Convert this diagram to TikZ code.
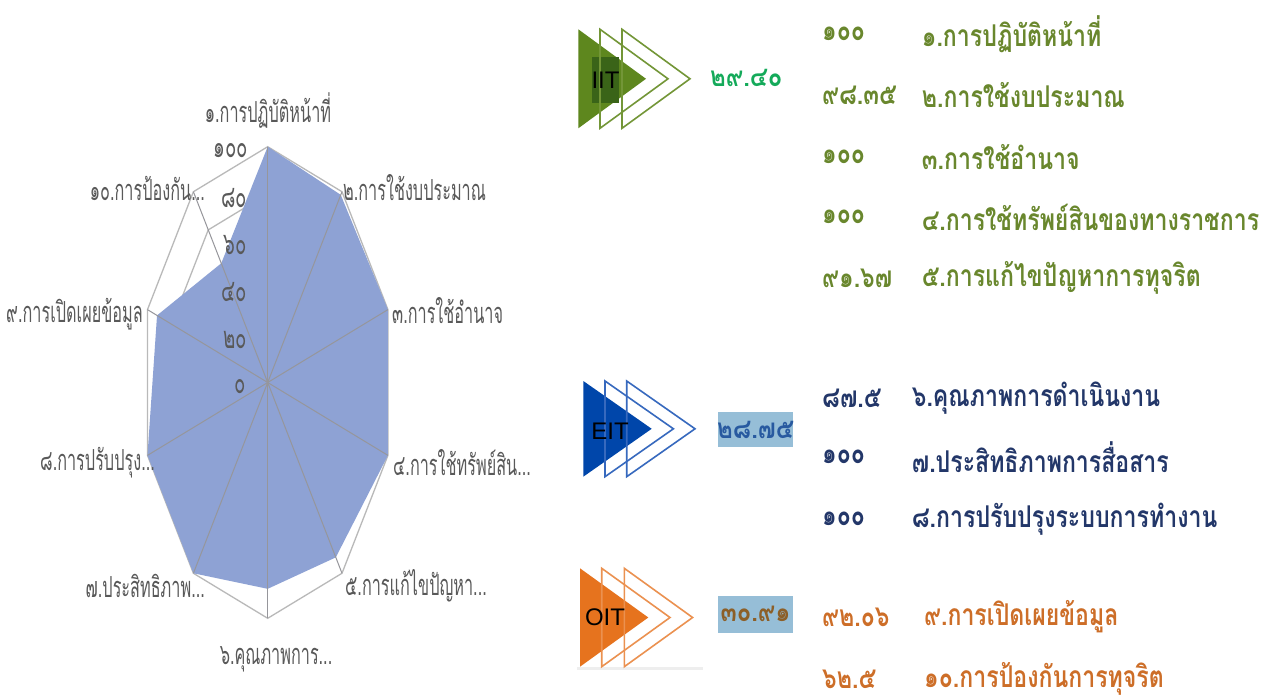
\documentclass[tikz,border=0pt]{standalone}
\usepackage{fontspec}
\newfontfamily\thai[Script=Thai,FakeStretch=0.77]{Loma}
\newfontfamily\thaiscore[Script=Thai,FakeStretch=0.85]{Loma}
\newfontfamily\thaicond[Script=Thai,FakeStretch=0.56]{Loma}
\newfontfamily\thaiax[Script=Thai,FakeStretch=0.6]{Loma}
\newfontfamily\arialf{Liberation Sans}
\definecolor{chartfill}{RGB}{142,162,212}
\definecolor{ringc}{RGB}{185,185,185}
\definecolor{spokec}{RGB}{150,150,155}
\definecolor{labgray}{RGB}{89,89,89}
\definecolor{iitfill}{RGB}{94,135,30}
\definecolor{iitdark}{RGB}{58,100,24}
\definecolor{iitline}{RGB}{115,150,55}
\definecolor{iitscore}{RGB}{20,170,90}
\definecolor{iittext}{RGB}{105,135,45}
\definecolor{eitfill}{RGB}{0,70,170}
\definecolor{eitline}{RGB}{55,105,190}
\definecolor{eitscore}{RGB}{40,90,160}
\definecolor{eittext}{RGB}{35,55,105}
\definecolor{oitfill}{RGB}{230,115,30}
\definecolor{oitline}{RGB}{235,145,80}
\definecolor{oitscore}{RGB}{140,95,40}
\definecolor{oittext}{RGB}{205,110,40}
\definecolor{scorebg}{RGB}{150,190,215}
\definecolor{basegray}{RGB}{238,238,238}
\tikzset{
  ring/.style={draw=ringc, line width=1.3pt},
  spoke/.style={draw=spokec, line width=1pt},
  chartlab/.style={text=labgray, inner sep=0pt, font=\thaicond\fontsize{29}{32}\selectfont},
  axlab/.style={text=labgray, inner sep=0pt, anchor=east, font=\thaiax\fontsize{31}{34}\selectfont},
  rowtext/.style={inner sep=0pt, anchor=west, font=\thai\bfseries\fontsize{30}{34}\selectfont},
  tag/.style={inner sep=0pt, text=black, font=\arialf\fontsize{24}{27}\selectfont},
  scoretext/.style={inner sep=0pt, font=\thaiscore\bfseries\fontsize{28}{32}\selectfont},
}
\begin{document}
\begin{tikzpicture}[x=1pt,y=-1pt]
\useasboundingbox (0,0) rectangle (1267,698);
\fill[white] (0,0) rectangle (1267,698);
% ---------- radar chart ----------
\coordinate (c) at (267.7,382.5);
\foreach \k in {1,...,10}{
  \coordinate (o\k) at ({267.7+126.4*sin(36*(\k-1))},{382.5-235.8*cos(36*(\k-1))});
}
\foreach \r in {20,40,60,80,100}{
  \draw[ring] plot[samples at={0,36,...,324}] ({267.7+1.264*\r*sin(\x)},{382.5-2.358*\r*cos(\x)}) -- cycle;
}
\foreach \k/\v in {1/100,2/98.35,3/100,4/100,5/91.67,6/87.5,7/100,8/100,9/92.06,10/62.5}{
  \coordinate (d\k) at ({267.7+1.264*\v*sin(36*(\k-1))},{382.5-2.358*\v*cos(36*(\k-1))});
}
\fill[chartfill] (d1) -- (d2) -- (d3) -- (d4) -- (d5) -- (d6) -- (d7) -- (d8) -- (d9) -- (d10) -- cycle;
\foreach \k in {1,...,10}{ \draw[spoke] (c) -- (o\k); }
% axis values
\node[axlab] (a100) at (248,151) {๑๐๐};
\node[axlab] (a80) at (247,198) {๘๐};
\node[axlab] (a60) at (247,245) {๖๐};
\node[axlab] (a40) at (247,292) {๔๐};
\node[axlab] (a20) at (247,339.5) {๒๐};
\node[axlab] (a0) at (246,386.5) {๐};
% category labels
\node[chartlab] (l1) at (268,111) {๑.การปฏิบัติหน้าที่};
\node[chartlab, anchor=west] (l2) at (343,188) {๒.การใช้งบประมาณ};
\node[chartlab, anchor=west] (l3) at (392,311) {๓.การใช้อำนาจ};
\node[chartlab, anchor=west] (l4) at (393,463) {๔.การใช้ทรัพย์สิน...};
\node[chartlab, anchor=west] (l5) at (345,586) {๕.การแก้ไขปัญหา...};
\node[chartlab] (l6) at (276,659) {๖.คุณภาพการ...};
\node[chartlab, anchor=east] (l7) at (205,586) {๗.ประสิทธิภาพ...};
\node[chartlab, anchor=east] (l8) at (155,463) {๘.การปรับปรุง...};
\node[chartlab, anchor=east] (l9) at (143,314) {๙.การเปิดเผยข้อมูล};
\node[chartlab, anchor=east] (l10) at (205,188) {๑๐.การป้องกัน...};
% ---------- IIT ----------
\fill[iitfill] (578.3,29.3) -- (646,78.8) -- (578.3,128.3) -- cycle;
\fill[iitdark] (591.7,56.7) rectangle (619.3,103.3);
\draw[iitline, line width=1.6pt, line join=miter] (600,29.3) -- (668,78.8) -- (600,128.3) -- cycle;
\draw[iitline, line width=1.6pt, line join=miter] (622,29.3) -- (690,78.8) -- (622,128.3) -- cycle;
\node[tag] (iit) at (605.5,80) {IIT};
\node[scoretext, text=iitscore, anchor=west] (iits) at (710,78) {๒๙.๔๐};
\begin{scope}[every node/.style={rowtext, text=iittext}]
\node (n1) at (822,34) {๑๐๐};      \node (t1) at (921.7,34) {๑.การปฏิบัติหน้าที่};
\node (n2) at (822,95) {๙๘.๓๕};    \node (t2) at (921.7,95) {๒.การใช้งบประมาณ};
\node (n3) at (822,157) {๑๐๐};     \node (t3) at (921.7,157) {๓.การใช้อำนาจ};
\node (n4) at (822,217) {๑๐๐};     \node (t4) at (921.7,217) {๔.การใช้ทรัพย์สินของทางราชการ};
\node (n5) at (822,278) {๙๑.๖๗};    \node (t5) at (921.7,278) {๕.การแก้ไขปัญหาการทุจริต};
\end{scope}
% ---------- EIT ----------
\fill[eitfill] (583.3,381) -- (651.7,428.8) -- (583.3,476.7) -- cycle;
\draw[eitline, line width=1.6pt, line join=miter] (605,381) -- (673.4,428.8) -- (605,476.7) -- cycle;
\draw[eitline, line width=1.6pt, line join=miter] (626.7,381) -- (695,428.8) -- (626.7,476.7) -- cycle;
\node[tag] (eit) at (610,431.7) {EIT};
\node[fill=scorebg, minimum width=75pt, minimum height=35.6pt, inner sep=0pt] (eits) at (755.5,429.5) {};
\node[scoretext, text=eitscore] (eitsv) at (eits.center) {๒๘.๗๕};
\begin{scope}[every node/.style={rowtext, text=eittext}]
\node (n6) at (822,398) {๘๗.๕};    \node (t6) at (911.7,398) {๖.คุณภาพการดำเนินงาน};
\node (n7) at (822,457) {๑๐๐};     \node (t7) at (911.7,457) {๗.ประสิทธิภาพการสื่อสาร};
\node (n8) at (822,519) {๑๐๐};     \node (t8) at (911.7,519) {๘.การปรับปรุงระบบการทำงาน};
\end{scope}
% ---------- OIT ----------
\draw[basegray, line width=3pt] (577,668.5) -- (703,668.5);
\fill[oitfill] (580,568.3) -- (648.3,617.5) -- (580,666.7) -- cycle;
\draw[oitline, line width=1.6pt, line join=miter] (601.7,568.3) -- (670,617.5) -- (601.7,666.7) -- cycle;
\draw[oitline, line width=1.6pt, line join=miter] (624.3,568.3) -- (692.6,617.5) -- (624.3,666.7) -- cycle;
\node[tag] (oit) at (605,617.3) {OIT};
\node[fill=scorebg, minimum width=75pt, minimum height=36.7pt, inner sep=0pt] (oits) at (755.5,614.3) {};
\node[scoretext, text=oitscore] (oitsv) at (oits.center) {๓๐.๙๑};
\begin{scope}[every node/.style={rowtext, text=oittext}]
\node (n9) at (822,617) {๙๒.๐๖};    \node (t9) at (924,617) {๙.การเปิดเผยข้อมูล};
\node (n10) at (822,679) {๖๒.๕};    \node (t10) at (924,679) {๑๐.การป้องกันการทุจริต};
\end{scope}
\end{tikzpicture}
\end{document}
